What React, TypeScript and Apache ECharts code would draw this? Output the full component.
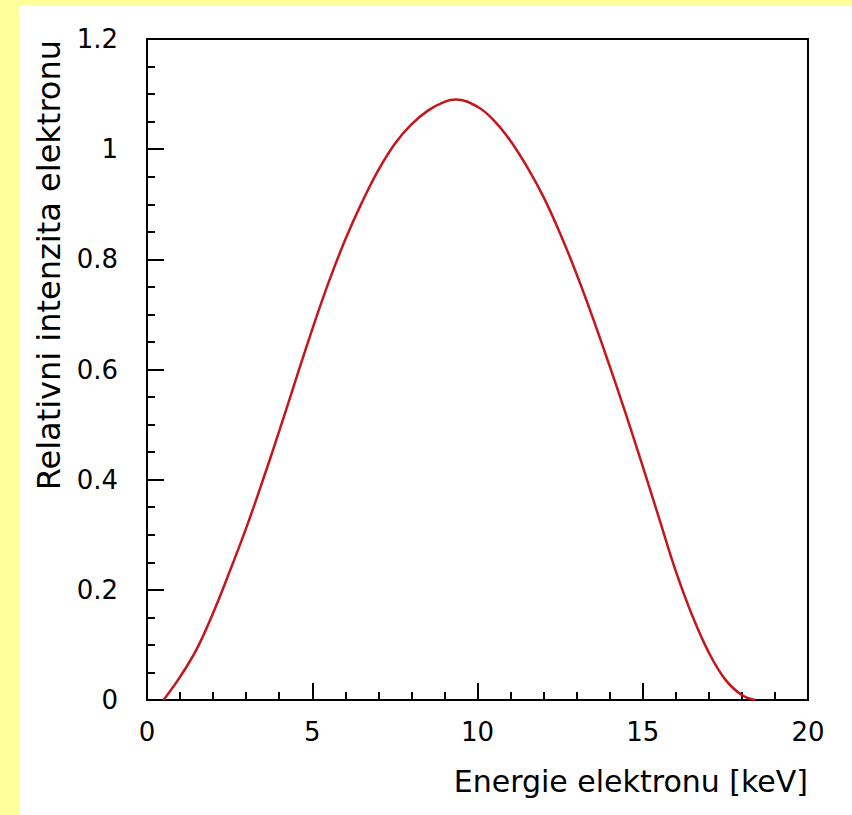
import React, { useEffect, useRef } from "react";
import * as echarts from "echarts";

const energy = [0.5, 1, 1.5, 2, 2.5, 3, 3.5, 4, 4.5, 5, 5.5, 6, 6.5, 7, 7.5, 8, 8.5, 9, 9.35, 10, 10.5, 11, 11.5, 12, 12.5, 13, 13.5, 14, 14.5, 15, 15.5, 16, 16.5, 17, 17.5, 18, 18.4];
const intensity = [0, 0.042, 0.092, 0.158, 0.233, 0.312, 0.398, 0.488, 0.581, 0.673, 0.759, 0.836, 0.903, 0.962, 1.01, 1.045, 1.07, 1.086, 1.09, 1.077, 1.052, 1.015, 0.968, 0.913, 0.847, 0.773, 0.692, 0.606, 0.517, 0.424, 0.329, 0.234, 0.153, 0.086, 0.037, 0.009, 0];
const xTitle = "Energie elektronu [keV]";
const yTitle = "Relativni intenzita elektronu";

export default function App() {
  const ref = useRef<HTMLDivElement>(null);
  useEffect(() => {
    if (!ref.current) return;
    const chart = echarts.init(ref.current, null, { renderer: "svg" });
    const font = "DejaVu Sans";
    chart.setOption({
      animation: false,
      backgroundColor: "#ffffff",
      grid: {
        left: 128,
        top: 34,
        right: 44,
        bottom: 115,
        show: true,
        borderColor: "#000",
        borderWidth: 2,
        backgroundColor: "#fff",
      },
      xAxis: {
        type: "value",
        min: 0,
        max: 20,
        interval: 5,
        axisLine: { show: true, onZero: false, lineStyle: { color: "#000", width: 2 } },
        axisTick: { show: true, inside: true, length: 17, lineStyle: { color: "#000", width: 2 } },
        minorTick: { show: true, splitNumber: 5, length: 8, lineStyle: { color: "#000", width: 2 } },
        splitLine: { show: false },
        axisLabel: { color: "#000", fontFamily: font, fontSize: 26, margin: 19 },
      },
      yAxis: {
        type: "value",
        min: 0,
        max: 1.2,
        interval: 0.2,
        axisLine: { show: true, onZero: false, lineStyle: { color: "#000", width: 2 } },
        axisTick: { show: true, inside: true, length: 17, lineStyle: { color: "#000", width: 2 } },
        minorTick: { show: true, splitNumber: 4, length: 8, lineStyle: { color: "#000", width: 2 } },
        splitLine: { show: false },
        axisLabel: { color: "#000", fontFamily: font, fontSize: 26, margin: 29 },
      },
      graphic: [
        {
          type: "text",
          x: 789,
          y: 776,
          style: {
            text: xTitle,
            fill: "#000",
            font: `30px "${font}"`,
            textAlign: "right",
            textVerticalAlign: "middle",
          },
        },
        {
          type: "text",
          x: 30,
          y: 35,
          rotation: Math.PI / 2,
          style: {
            text: yTitle,
            fill: "#000",
            font: `32px "${font}"`,
            textAlign: "right",
            textVerticalAlign: "middle",
          },
        },
      ],
      series: [
        {
          type: "line",
          data: energy.map((e, i) => [e, intensity[i]]),
          showSymbol: false,
          smooth: 0.4,
          lineStyle: { color: "#c4161c", width: 2.5 },
          clip: true,
        },
      ],
    });
    return () => chart.dispose();
  }, []);
  return (
    <div style={{ position: "fixed", left: 0, top: 0, width: 852, height: 815, background: "#ffff99" }}>
      <div ref={ref} style={{ position: "absolute", left: 19, top: 5, width: 833, height: 810, background: "#fff" }} />
    </div>
  );
}
